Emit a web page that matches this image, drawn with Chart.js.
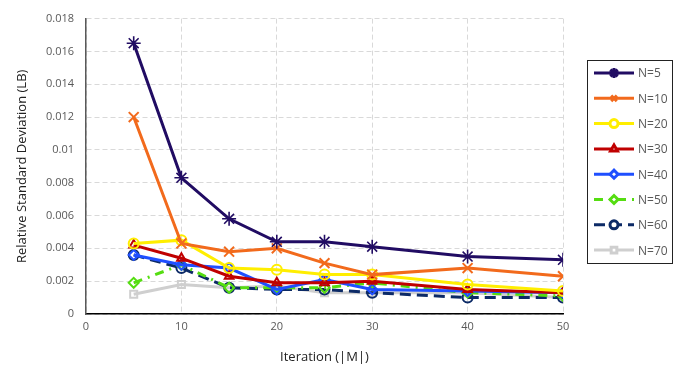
<!DOCTYPE html>
<html>
<head>
<meta charset="utf-8">
<script src="https://cdn.jsdelivr.net/npm/chart.js@4"></script>
<style>
  html, body { margin:0; padding:0; background:#fff; }
  #wrap { width:683px; height:382px; }
</style>
</head>
<body>
<div id="wrap"><canvas id="rsdChart" width="683" height="382"></canvas></div>
<script>
// ================= DATA =================
const iterations = [5, 10, 15, 20, 25, 30, 40, 50];

const n5  = [0.0165, 0.0083, 0.0058, 0.0044, 0.0044, 0.0041, 0.0035, 0.0033];
const n10 = [0.0120, 0.0043, 0.0038, 0.0040, 0.0031, 0.0024, 0.0028, 0.0023];
const n20 = [0.0043, 0.0045, 0.0028, 0.0027, 0.0024, 0.0024, 0.0018, 0.0014];
const n30 = [0.0042, 0.0034, 0.0023, 0.0019, 0.0019, 0.0020, 0.0015, 0.0013];
const n40 = [0.0036, 0.0030, 0.0028, 0.0015, 0.0021, 0.0015, 0.0014, 0.0013];
const n50 = [0.0019, 0.0030, 0.0016, 0.0016, 0.0016, 0.0019, 0.0013, 0.0011];
const n60 = [0.0036, 0.0028, 0.0016, 0.0015, 0.0015, 0.0013, 0.0010, 0.0010];
const n70 = [0.0012, 0.0018, 0.0016, 0.0017, 0.0013, 0.0013, 0.0013, 0.0010];

const yTicks = [0, 0.002, 0.004, 0.006, 0.008, 0.01, 0.012, 0.014, 0.016, 0.018];
const xTicks = [0, 10, 20, 30, 40, 50];

// ================= HELPERS =================
function points(values){
  return values.map((v, i) => ({ x: iterations[i], y: v }));
}

function series(label, values, color, pointStyle, dash, radius, pw){
  return {
    label,
    data: points(values),
    borderColor: color,
    backgroundColor: "rgba(255,255,255,0)",
    pointBorderColor: color,
    pointBackgroundColor: "rgba(255,255,255,0)",
    pointStyle,
    pointRadius: radius || 5,
    pointBorderWidth: pw || 2,
    borderWidth: 3,
    borderDash: dash || [],
    tension: 0,
    fill: false
  };
}

const FONT = "'Open Sans', 'Liberation Sans', sans-serif";
const TEXT = "#595959";

// ================= LEGEND =================
const boxLegend = {
  id: "boxLegend",
  afterDraw(chart){
    const ctx = chart.ctx;
    const left = 587, top = 60, w = 85, h = 203;
    ctx.save();
    ctx.strokeStyle = "#222";
    ctx.lineWidth = 1;
    ctx.strokeRect(left + 0.5, top + 0.5, w, h);

    chart.data.datasets.forEach((ds, i) => {
      const y = top + 13 + i * 25.3;
      ctx.strokeStyle = ds.borderColor;
      ctx.lineWidth = 3;
      ctx.setLineDash(ds.borderDash || []);
      ctx.beginPath();
      ctx.moveTo(left + 7, y);
      ctx.lineTo(left + 47, y);
      ctx.stroke();
      ctx.setLineDash([]);
      ctx.fillStyle = "#fff";
      ctx.strokeStyle = ds.borderColor;
      Chart.helpers.drawPoint(ctx, {
        pointStyle: ds.pointStyle,
        radius: ds.pointStyle === "star" ? 5 : 4,
        borderWidth: ds.pointStyle === "star" ? 1.3 : 2,
        rotation: 0
      }, left + 27, y);
      ctx.fillStyle = TEXT;
      ctx.font = "12px " + FONT;
      ctx.textBaseline = "middle";
      ctx.fillText(ds.label, left + 51, y + 1);
    });
    ctx.restore();
  }
};

// ================= CHART =================
new Chart(document.getElementById("rsdChart"), {
  type: "line",
  data: {
    datasets: [
      series("N=5",  n5,  "#210c63", "star", [], 7, 1.6),
      series("N=10", n10, "#f26a1c", "crossRot", [], 7),
      series("N=20", n20, "#ffee00", "circle"),
      series("N=30", n30, "#c00000", "triangle"),
      series("N=40", n40, "#1f4fff", "rectRot"),
      series("N=50", n50, "#55dd11", "rectRot", [9, 6, 2, 6]),
      series("N=60", n60, "#0c2a66", "circle", [11, 6]),
      series("N=70", n70, "#cfcfcf", "rect")
    ]
  },
  options: {
    responsive: false,
    animation: false,
    layout: { padding: { left: 8, top: 16, right: 120, bottom: 8 } },
    plugins: {
      legend: { display: false },
      tooltip: { enabled: false }
    },
    scales: {
      x: {
        type: "linear",
        min: 0,
        max: 50,
        afterBuildTicks: s => { s.ticks = xTicks.map(v => ({ value: v })); },
        afterFit: s => { s.height = 382 - 314 - 8; },
        ticks: { color: TEXT, font: { family: FONT, size: 11 }, padding: 6, maxRotation: 0 },
        grid: { color: "#d9d9d9", lineWidth: 1, drawTicks: false },
        border: { color: "#000", width: 1.5, dash: [5, 3] },
        title: {
          display: true,
          text: "Iteration (|M|)",
          color: "#222",
          font: { family: FONT, size: 13 },
          padding: { top: 4, bottom: 9 }
        }
      },
      y: {
        min: 0,
        max: 0.018,
        afterBuildTicks: s => { s.ticks = yTicks.map(v => ({ value: v })); },
        afterFit: s => { s.width = 86 - 8; },
        ticks: {
          color: TEXT,
          font: { family: FONT, size: 11 },
          padding: 12,
          callback: v => String(+v.toFixed(3))
        },
        grid: { color: "#d9d9d9", lineWidth: 1, drawTicks: false },
        border: { color: "#595959", width: 1.5, dash: [5, 3] },
        title: {
          display: true,
          text: "Relative Standard Deviation (LB)",
          color: "#222",
          font: { family: FONT, size: 13 },
          padding: { top: 6, bottom: 4 }
        }
      }
    }
  },
  plugins: [boxLegend]
});
</script>
</body>
</html>
